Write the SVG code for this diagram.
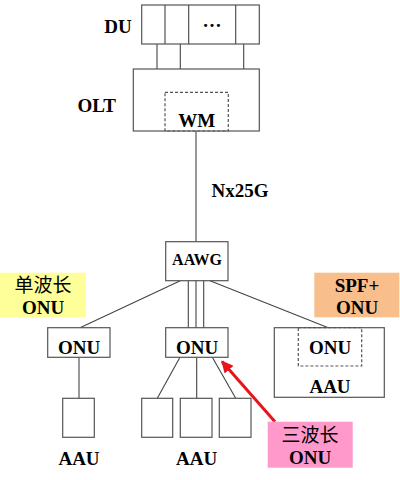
<svg xmlns="http://www.w3.org/2000/svg" width="400" height="480" viewBox="0 0 400 480">
<defs>
<style>
.b{fill:#fff;stroke:#555;stroke-width:1.2}
.d{fill:none;stroke:#555;stroke-width:1.2;stroke-dasharray:3,2}
.l{stroke:#444;stroke-width:1.1;fill:none}
.t{font-family:"Liberation Serif","Times New Roman",serif;font-weight:bold;font-size:19px;fill:#000;text-anchor:middle}
.c{font-family:"Liberation Serif","Noto Sans CJK SC",serif;font-weight:normal;font-size:19px;fill:#000;text-anchor:middle}
</style>
<marker id="ah" viewBox="0 0 10 10" refX="9" refY="5" markerWidth="4" markerHeight="4" orient="auto" markerUnits="strokeWidth">
<path d="M0,0 L10,5 L0,10 z" fill="#e8141a"/>
</marker>
</defs>
<rect width="400" height="480" fill="#fff"/>
<g id="connectors">
<line class="l" x1="157" y1="44" x2="157" y2="69"/>
<line class="l" x1="180.3" y1="44" x2="180.3" y2="69"/>
<line class="l" x1="243.7" y1="44" x2="243.7" y2="69"/>
<line class="l" x1="196" y1="131" x2="196" y2="241.7"/>
<line class="l" x1="180.3" y1="280.7" x2="80" y2="327.7"/>
<line class="l" x1="188.3" y1="280.7" x2="188.3" y2="327.7"/>
<line class="l" x1="196" y1="280.7" x2="196" y2="327.7"/>
<line class="l" x1="203.7" y1="280.7" x2="203.7" y2="327.7"/>
<line class="l" x1="210" y1="280.7" x2="328.3" y2="327.7"/>
<line class="l" x1="79" y1="357.3" x2="79" y2="398.3"/>
<line class="l" x1="180" y1="357.3" x2="157.3" y2="398.3"/>
<line class="l" x1="196.7" y1="357.3" x2="196.7" y2="398.3"/>
<line class="l" x1="212.3" y1="357.3" x2="235.7" y2="398.3"/>
<line x1="275" y1="421.7" x2="222" y2="361.5" stroke="#e8141a" stroke-width="3" marker-end="url(#ah)"/>
</g>
<g id="du">
<rect class="b" x="141.7" y="5" width="117.6" height="39"/>
<line class="l" x1="165" y1="5" x2="165" y2="44"/>
<line class="l" x1="188.7" y1="5" x2="188.7" y2="44"/>
<line class="l" x1="235.7" y1="5" x2="235.7" y2="44"/>
<text class="t" x="212" y="27">…</text>
<text class="t" x="118" y="33">DU</text>
</g>
<g id="olt">
<rect class="b" x="133.3" y="69" width="126" height="62"/>
<rect class="d" x="165" y="92.3" width="63.3" height="38.7"/>
<text class="t" x="196.7" y="126.7">WM</text>
<text class="t" x="96.7" y="111.7">OLT</text>
</g>
<text class="t" x="240" y="196.7">Nx25G</text>
<g id="aawg">
<rect class="b" x="165.7" y="241.7" width="62.3" height="39"/>
<text class="t" x="197" y="265" style="font-size:16px">AAWG</text>
</g>
<g id="label-single">
<rect x="0" y="272.7" width="86" height="44.6" fill="#ffff99"/>
<text class="c" x="43" y="291.5">单波长</text>
<text class="t" x="43" y="314">ONU</text>
</g>
<g id="label-spf">
<rect x="314.3" y="272.7" width="85" height="44.6" fill="#f8be8c"/>
<text class="t" x="357" y="292">SPF+</text>
<text class="t" x="357" y="314">ONU</text>
</g>
<g id="onu-left">
<rect class="b" x="47.7" y="327.7" width="62.3" height="29.6"/>
<text class="t" x="79" y="354">ONU</text>
</g>
<g id="onu-mid">
<rect class="b" x="165.7" y="327.7" width="62.3" height="29.6"/>
<text class="t" x="197" y="354">ONU</text>
</g>
<g id="aau-right">
<rect class="b" x="274.3" y="327.7" width="110" height="69.6"/>
<rect class="d" x="298.3" y="327.7" width="63.4" height="38.3"/>
<text class="t" x="330" y="354">ONU</text>
<text class="t" x="330" y="393">AAU</text>
</g>
<g id="aau-left">
<rect class="b" x="62.7" y="398.3" width="31.6" height="39"/>
<text class="t" x="79" y="465">AAU</text>
</g>
<g id="aau-mid">
<rect class="b" x="141.7" y="398.3" width="31" height="39"/>
<rect class="b" x="180.3" y="398.3" width="31.7" height="39"/>
<rect class="b" x="219.3" y="398.3" width="31.7" height="39"/>
<text class="t" x="196.7" y="465">AAU</text>
</g>
<g id="label-three">
<rect x="267.7" y="421.7" width="85" height="46" fill="#ff99cc"/>
<text class="c" x="310" y="441.5">三波长</text>
<text class="t" x="310" y="464.3">ONU</text>
</g>
</svg>
